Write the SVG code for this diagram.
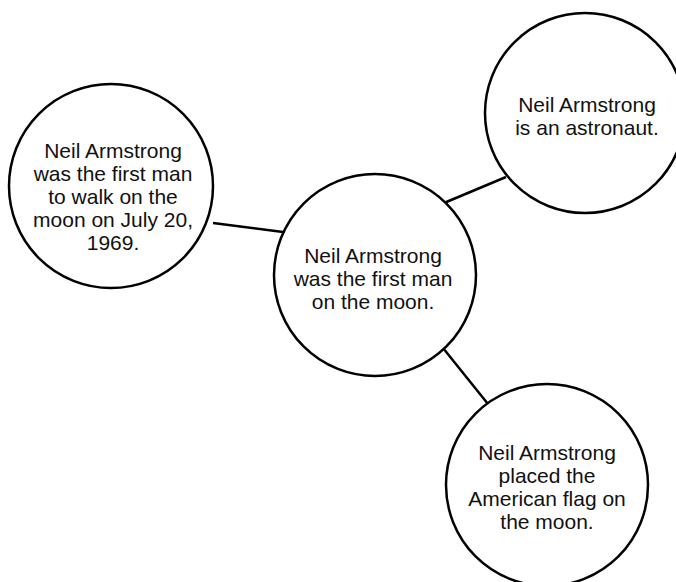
<svg xmlns="http://www.w3.org/2000/svg" width="676" height="582" viewBox="0 0 676 582">
<style>
.n{fill:#fff;stroke:#000;stroke-width:2.5}
.c{stroke:#000;stroke-width:2.5;fill:none}
text{font-family:"Liberation Sans",Arial,sans-serif;font-size:21px;fill:#111;text-anchor:middle}
</style>
<rect width="676" height="582" fill="#fff"/>
<g id="connectors">
<line class="c" x1="213" y1="223" x2="283" y2="232"/>
<line class="c" x1="444" y1="203" x2="506" y2="177"/>
<line class="c" x1="443" y1="348" x2="488" y2="404"/>
</g>
<g id="node-left">
<circle class="n" cx="111" cy="186" r="102"/>
<text x="113" y="157.7">Neil Armstrong</text>
<text x="113" y="180.7">was the first man</text>
<text x="113" y="203.7">to walk on the</text>
<text x="113" y="226.7">moon on July 20,</text>
<text x="113" y="249.7">1969.</text>
</g>
<g id="node-center">
<circle class="n" cx="375" cy="275" r="101"/>
<text x="373" y="263.3">Neil Armstrong</text>
<text x="373" y="286.3">was the first man</text>
<text x="373" y="309.3">on the moon.</text>
</g>
<g id="node-top-right">
<circle class="n" cx="585" cy="113" r="100"/>
<text x="587" y="111.7">Neil Armstrong</text>
<text x="587" y="134.7">is an astronaut.</text>
</g>
<g id="node-bottom-right">
<circle class="n" cx="547" cy="485" r="101"/>
<text x="547" y="460">Neil Armstrong</text>
<text x="547" y="483">placed the</text>
<text x="547" y="506">American flag on</text>
<text x="547" y="529">the moon.</text>
</g>
</svg>
